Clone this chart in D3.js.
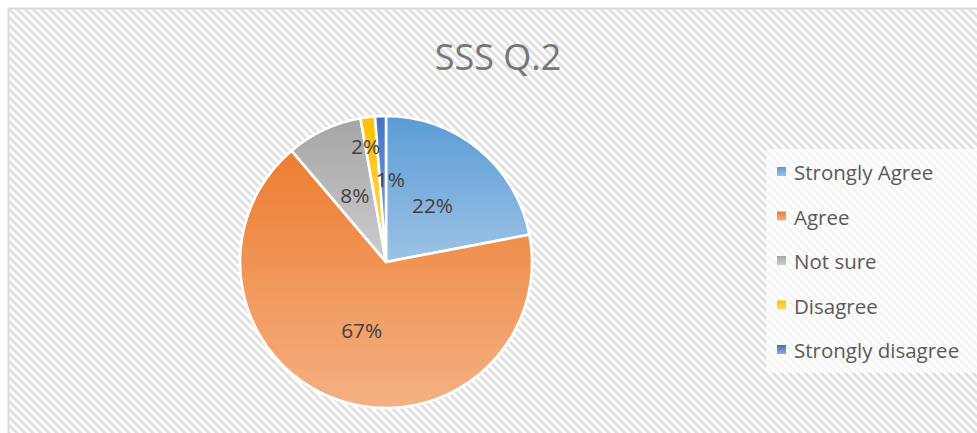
<!DOCTYPE html>
<html lang="en">
<head>
  <meta charset="UTF-8">
  <title>SSS Q.2</title>
  <script src="https://cdn.jsdelivr.net/npm/d3@7"></script>
  <style>
    html, body { margin: 0; padding: 0; background: #fff; overflow: hidden; }
    text { font-family: "Open Sans", "Noto Sans", sans-serif; }
  </style>
</head>
<body>
  <svg id="chart"></svg>
  <script>
    // answers to SSS Q.2 (counts)
    const categories = ['Strongly Agree', 'Agree', 'Not sure', 'Disagree', 'Strongly disagree'];
    const counts = [55, 167, 21, 4, 3];
    const baseColors = ['#5b9bd5', '#ed7d31', '#a5a5a5', '#ffc000', '#4472c4'];
    const tintColors = ['#9dc3e6', '#f4b183', '#cdcdcd', '#ffd966', '#8faadc'];
    const title = 'SSS Q.2';

    const width = 977, height = 433;
    const svg = d3.select('#chart').attr('width', width).attr('height', height);
    const defs = svg.append('defs');

    // hatched chart background
    const pat = defs.append('pattern')
      .attr('id', 'hatch')
      .attr('width', 8).attr('height', 8)
      .attr('patternUnits', 'userSpaceOnUse');
    pat.append('rect').attr('width', 8).attr('height', 8).attr('fill', '#fff');
    pat.append('path')
      .attr('d', 'M-1,-1L9,9M7,-1L9,1M-1,7L1,9')
      .attr('stroke', '#e0e0e0')
      .attr('stroke-width', 2.8);

    categories.forEach((c, i) => {
      const g = defs.append('linearGradient')
        .attr('id', 'grad' + i)
        .attr('x1', 0).attr('y1', 0).attr('x2', 0).attr('y2', 1);
      g.append('stop').attr('offset', '0%').attr('stop-color', baseColors[i]);
      g.append('stop').attr('offset', '100%').attr('stop-color', tintColors[i]);
    });

    const color = d3.scaleOrdinal()
      .domain(categories)
      .range(categories.map((c, i) => `url(#grad${i})`));

    svg.append('rect')
      .attr('x', 8.5).attr('y', 8.5)
      .attr('width', 1000).attr('height', 600)
      .attr('fill', 'url(#hatch)')
      .attr('stroke', '#d9d9d9')
      .attr('stroke-width', 2);

    svg.append('text')
      .attr('x', 498).attr('y', 70)
      .attr('text-anchor', 'middle')
      .attr('fill', '#767676')
      .style('font-size', '36px')
      .text(title);

    // pie
    const cx = 386, cy = 262, r = 146;
    const total = d3.sum(counts);
    const data = categories.map((c, i) => ({ cat: c, val: counts[i] }));
    const pie = d3.pie().sort(null).value(d => d.val);
    const arcs = pie(data);
    const arc = d3.arc().innerRadius(0).outerRadius(r);

    const pieG = svg.append('g').attr('transform', `translate(${cx},${cy})`);
    pieG.selectAll('path.slice')
      .data(arcs)
      .enter()
      .append('path')
      .attr('class', 'slice')
      .attr('d', arc)
      .attr('fill', d => color(d.data.cat))
      .attr('stroke', '#fff')
      .attr('stroke-width', 2.6)
      .attr('stroke-linejoin', 'round');

    // labels sit at half radius; the two thin slices get pushed apart like excel does
    const labelMove = {
      'Disagree': { k: 0.8, da: -0.05 },
      'Strongly disagree': { k: 0.565, da: 0.09 }
    };
    pieG.selectAll('text.lbl')
      .data(arcs)
      .enter()
      .append('text')
      .attr('class', 'lbl')
      .attr('transform', d => {
        const m = labelMove[d.data.cat] || { k: 0.5, da: 0 };
        const a = (d.startAngle + d.endAngle) / 2 + m.da;
        const rr = r * m.k;
        return `translate(${Math.sin(a) * rr},${-Math.cos(a) * rr})`;
      })
      .attr('text-anchor', 'middle')
      .attr('dy', '0.36em')
      .attr('fill', '#404040')
      .style('font-size', '20.8px')
      .text(d => Math.round(d.data.val / total * 100) + '%');

    // legend
    const legendY = d3.scalePoint().domain(categories).range([180, 358]);
    svg.append('rect')
      .attr('x', 766).attr('y', 149)
      .attr('width', 220).attr('height', 224)
      .attr('fill', '#fff')
      .attr('opacity', 0.65);

    const legend = svg.append('g');
    const item = legend.selectAll('g.item')
      .data(categories)
      .enter()
      .append('g')
      .attr('class', 'item')
      .attr('transform', d => `translate(0,${legendY(d)})`);
    item.append('rect')
      .attr('x', 777).attr('y', -13)
      .attr('width', 9).attr('height', 9)
      .attr('fill', d => color(d));
    item.append('text')
      .attr('x', 794).attr('y', 0)
      .attr('fill', '#595959')
      .style('font-size', '20.5px')
      .text(d => d);
  </script>
</body>
</html>
